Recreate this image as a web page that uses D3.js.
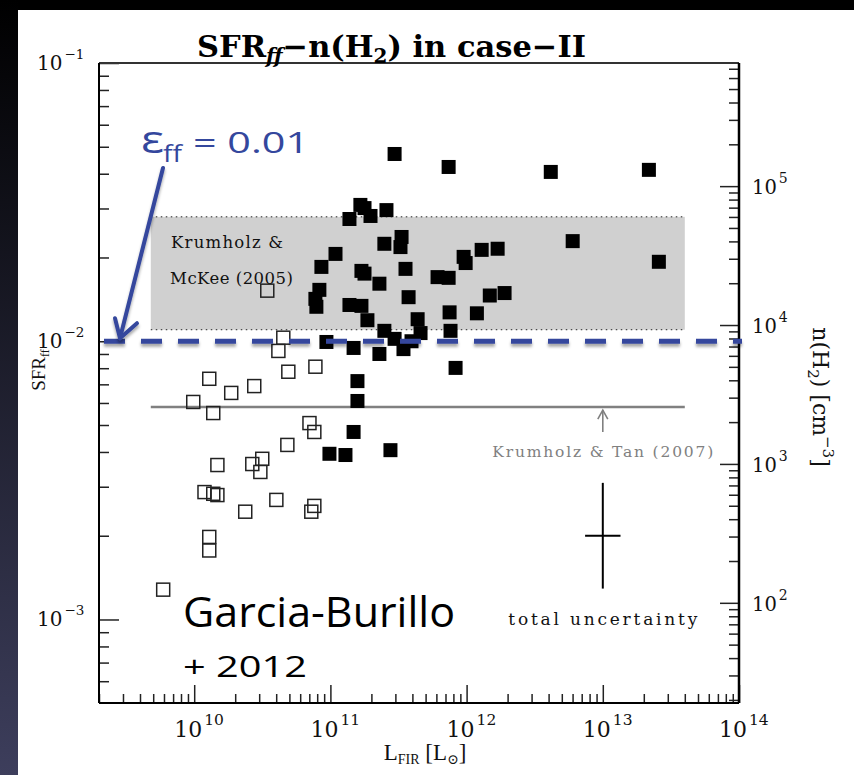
<!DOCTYPE html>
<html>
<head>
<meta charset="utf-8">
<script src="https://cdn.jsdelivr.net/npm/d3@7"></script>
<style>
  body { margin: 0; background: #fff; }
  svg { display: block; }
</style>
</head>
<body>
<svg id="chart" width="854" height="775"></svg>
<script>
// ---- data ----------------------------------------------------------------
// Galaxies with high-density tracer detections (filled) : L_FIR [Lsun], SFR_ff
const filledL = [2.96e11, 7.38e11, 4.15e12, 2.18e13, 1.66e11, 1.78e11, 2.58e11, 1.38e11, 1.97e11,
  6.01e12, 2.58e13, 3.33e11, 3.27e11, 2.49e11, 1.09e11, 8.59e10, 1.69e11, 1.78e11, 2.29e11,
  3.56e11, 9.51e11, 9.84e11, 1.29e12, 1.69e12, 6.12e11, 7.38e11, 8.30e10, 7.76e10, 7.89e10,
  1.38e11, 1.69e11, 1.87e11, 3.75e11, 1.48e12, 1.90e12, 7.50e11, 1.19e12, 4.37e11, 2.49e11,
  4.59e11, 7.62e11, 9.35e10, 2.96e11, 3.94e11, 1.48e11, 2.29e11, 3.44e11, 8.30e11, 1.58e11,
  1.58e11, 1.48e11, 9.84e10, 1.29e11, 2.76e11];
const filledSFR = [0.0471, 0.0423, 0.0406, 0.0413, 0.0309, 0.0301, 0.0296, 0.0275, 0.0282,
  0.0229, 0.0193, 0.0237, 0.0218, 0.0224, 0.0206, 0.0185, 0.0179, 0.0175, 0.0161,
  0.0182, 0.0201, 0.0191, 0.0213, 0.0215, 0.0170, 0.0169, 0.0153, 0.0142, 0.0133,
  0.0135, 0.0134, 0.0119, 0.0144, 0.0146, 0.0149, 0.0127, 0.0126, 0.0120, 0.0109,
  0.0107, 0.0109, 0.00994, 0.0102, 0.0100, 0.00946, 0.00900, 0.00937, 0.00802, 0.00719,
  0.00610, 0.00472, 0.00394, 0.00390, 0.00406];

// Normal galaxies (open)
const openL = [3.44e10, 4.51e10, 4.15e10, 7.76e10, 4.91e10, 1.29e10, 2.76e10, 1.87e10, 9.84e9,
  1.38e10, 7.02e10, 7.62e10, 4.83e10, 1.48e10, 3.16e10, 2.67e10, 3.06e10, 1.19e10, 1.38e10,
  1.48e10, 4.01e10, 7.62e10, 7.24e10, 2.37e10, 1.29e10, 1.29e10, 5.92e9];
const openSFR = [0.0152, 0.0103, 0.00923, 0.00810, 0.00777, 0.00733, 0.00690, 0.00652, 0.00605,
  0.00552, 0.00508, 0.00472, 0.00424, 0.00359, 0.00378, 0.00362, 0.00339, 0.00287, 0.00283,
  0.00280, 0.00269, 0.00256, 0.00244, 0.00244, 0.00198, 0.00177, 0.00128];

// Axis decades
const xTickExps = [10, 11, 12, 13, 14];
const yTickExps = [-1, -2, -3];
const nTickExps = [2, 3, 4, 5];

// Theory bands / lines
const kmL = [4.8e9, 4.0e13];          // Krumholz & McKee (2005) band extent in L_FIR
const kmSFR = [0.011, 0.028];         // and in SFR_ff
const ktL = [4.8e9, 4.0e13];
const ktSFR = 0.0058;                 // Krumholz & Tan (2007)
const effValue = 0.01;                // eps_ff = 0.01

// Representative uncertainty cross
const errL = 1e13, errSFR = 0.0020;
const errDexL = 0.13, errDexSFR = 0.19;

// ---- layout ----------------------------------------------------------------
const W = 854, H = 775;
const M = { left: 99, right: 739, top: 63, bottom: 703 };

const svg = d3.select("#chart");
const serif = "'DejaVu Serif', 'Liberation Serif', serif";
const lserif = "'Liberation Serif', 'DejaVu Serif', serif";
const sans = "'Open Sans', 'Lato', sans-serif";

// background: slide frame darkening on the left edge
const defs = svg.append("defs");
const grad = defs.append("linearGradient").attr("id", "edge").attr("x1", 0).attr("y1", 0).attr("x2", 0).attr("y2", 1);
grad.append("stop").attr("offset", "0%").attr("stop-color", "#000");
grad.append("stop").attr("offset", "100%").attr("stop-color", "#3d3e5c");
const shadow = defs.append("filter").attr("id", "shadow").attr("filterUnits", "userSpaceOnUse")
  .attr("x", 0).attr("y", 0).attr("width", W).attr("height", H);
shadow.append("feDropShadow").attr("dx", 0).attr("dy", 3).attr("stdDeviation", 1.8)
  .attr("flood-color", "#000").attr("flood-opacity", 0.35);

svg.append("rect").attr("width", W).attr("height", H).attr("fill", "#fff");
svg.append("rect").attr("x", 0).attr("y", 0).attr("width", W).attr("height", 10).attr("fill", "#000");
svg.append("rect").attr("x", 0).attr("y", 0).attr("width", 18).attr("height", H).attr("fill", "url(#edge)");

// ---- scales ----------------------------------------------------------------
const x = d3.scaleLog().domain([2e9, 1e14]).range([M.left, M.right]);
const y = d3.scaleLog().domain([5.01e-4, 0.1]).range([M.bottom, M.top]);
const yn = d3.scaleLog().domain([19, 7.7e5]).range([M.bottom, M.top]);

// ---- theory band (Krumholz & McKee 2005) ----------------------------------
svg.append("rect")
  .attr("x", x(kmL[0])).attr("y", y(kmSFR[1]))
  .attr("width", x(kmL[1]) - x(kmL[0])).attr("height", y(kmSFR[0]) - y(kmSFR[1]))
  .attr("fill", "#d0d0d0");
[kmSFR[0], kmSFR[1]].forEach(v => {
  svg.append("line").attr("x1", x(kmL[0])).attr("x2", x(kmL[1])).attr("y1", y(v)).attr("y2", y(v))
    .attr("stroke", "#222").attr("stroke-width", 1).attr("stroke-dasharray", "1.5,3.5");
});
const kmText = svg.append("g").attr("font-family", serif).attr("font-size", 16.5).attr("fill", "#111");
kmText.append("text").attr("x", 171).attr("y", 248).attr("textLength", 112).text("Krumholz &");
kmText.append("text").attr("x", 170).attr("y", 284).attr("textLength", 123).text("McKee (2005)");

// ---- Krumholz & Tan (2007) ---------------------------------------------------
svg.append("line").attr("x1", x(ktL[0])).attr("x2", x(ktL[1])).attr("y1", y(ktSFR)).attr("y2", y(ktSFR))
  .attr("stroke", "#808080").attr("stroke-width", 2.5);
const ktArrowX = x(1e13);
svg.append("line").attr("x1", ktArrowX).attr("x2", ktArrowX).attr("y1", 432).attr("y2", y(ktSFR) + 3)
  .attr("stroke", "#808080").attr("stroke-width", 1.6);
svg.append("path")
  .attr("d", `M${ktArrowX - 5},${y(ktSFR) + 12} L${ktArrowX},${y(ktSFR) + 3} L${ktArrowX + 5},${y(ktSFR) + 12}`)
  .attr("fill", "none").attr("stroke", "#808080").attr("stroke-width", 1.6);
svg.append("text").attr("x", ktArrowX).attr("y", 457).attr("text-anchor", "middle")
  .attr("font-family", serif).attr("font-size", 15.5).attr("fill", "#808080")
  .attr("textLength", 221).text("Krumholz & Tan (2007)");

// ---- data points -----------------------------------------------------------
const openPts = openL.map((d, i) => [d, openSFR[i]]);
const filledPts = filledL.map((d, i) => [d, filledSFR[i]]);
const so = 13, sf = 14;
svg.append("g").selectAll("rect").data(openPts).join("rect")
  .attr("x", d => x(d[0]) - so / 2).attr("y", d => y(d[1]) - so / 2)
  .attr("width", so).attr("height", so)
  .attr("fill", "none").attr("stroke", "#222").attr("stroke-width", 1.5);
svg.append("g").selectAll("rect").data(filledPts).join("rect")
  .attr("x", d => x(d[0]) - sf / 2).attr("y", d => y(d[1]) - sf / 2)
  .attr("width", sf).attr("height", sf).attr("fill", "#000");

// ---- uncertainty cross -----------------------------------------------------
svg.append("line")
  .attr("x1", x(errL)).attr("x2", x(errL))
  .attr("y1", y(errSFR * Math.pow(10, errDexSFR))).attr("y2", y(errSFR / Math.pow(10, errDexSFR)))
  .attr("stroke", "#000").attr("stroke-width", 2);
svg.append("line")
  .attr("x1", x(errL / Math.pow(10, errDexL))).attr("x2", x(errL * Math.pow(10, errDexL)))
  .attr("y1", y(errSFR)).attr("y2", y(errSFR))
  .attr("stroke", "#000").attr("stroke-width", 2);
svg.append("text").attr("x", x(errL)).attr("y", 625).attr("text-anchor", "middle")
  .attr("font-family", serif).attr("font-size", 17).attr("fill", "#111")
  .attr("textLength", 189).text("total uncertainty");

// ---- axes (ticks point inward) --------------------------------------------
function logMinors(lo, hi) {
  const out = [];
  for (let e = lo; e < hi; e++) for (let k = 2; k <= 9; k++) out.push(k * Math.pow(10, e));
  return out;
}
const xMinor = logMinors(9, 14).filter(v => v >= 2e9 && v <= 1e14);
const yMinor = logMinors(-4, -1).filter(v => v >= 5.01e-4 && v <= 0.1);
const nMinor = logMinors(1, 6).filter(v => v >= 19 && v <= 7.7e5);

function tickAxis(axisFn, scale, values, size, pos) {
  const g = svg.append("g").attr("transform", pos)
    .call(axisFn(scale).tickValues(values).tickSize(size).tickFormat(""));
  g.select(".domain").remove();
  g.selectAll("line").attr("stroke", "#222").attr("stroke-width", 1.5);
  return g;
}
tickAxis(d3.axisBottom, x, xMinor, -9, `translate(0,${M.bottom})`);
tickAxis(d3.axisBottom, x, xTickExps.map(e => Math.pow(10, e)), -18, `translate(0,${M.bottom})`);
tickAxis(d3.axisLeft, y, yMinor, -10, `translate(${M.left},0)`);
tickAxis(d3.axisLeft, y, yTickExps.map(e => Math.pow(10, e)), -20, `translate(${M.left},0)`);
tickAxis(d3.axisRight, yn, nMinor, -10, `translate(${M.right},0)`);
tickAxis(d3.axisRight, yn, nTickExps.map(e => Math.pow(10, e)), -19, `translate(${M.right},0)`);

// frame
svg.append("line").attr("x1", M.left).attr("x2", M.right).attr("y1", M.top).attr("y2", M.top).attr("stroke", "#333").attr("stroke-width", 2);
svg.append("line").attr("x1", M.left).attr("x2", M.right).attr("y1", M.bottom).attr("y2", M.bottom).attr("stroke", "#000").attr("stroke-width", 2);
svg.append("line").attr("x1", M.left).attr("x2", M.left).attr("y1", M.top).attr("y2", M.bottom).attr("stroke", "#000").attr("stroke-width", 2);
svg.append("line").attr("x1", M.right).attr("x2", M.right).attr("y1", M.top).attr("y2", M.bottom).attr("stroke", "#000").attr("stroke-width", 2.5);

// tick labels with superscript exponents
function powLabel(g, px, py, exp, size, supSize) {
  const t = g.append("text").attr("x", px).attr("y", py)
    .attr("font-family", serif).attr("font-size", size).attr("fill", "#111");
  t.append("tspan").text("10");
  t.append("tspan").attr("dx", 2).attr("dy", -size * 0.55).attr("font-size", supSize)
    .text(exp < 0 ? "\u2212" + Math.abs(exp) : String(exp));
  return t;
}
const labels = svg.append("g");
xTickExps.forEach(e => powLabel(labels, x(Math.pow(10, e)) - 20, 737, e, 22, 15.5));
yTickExps.forEach(e => powLabel(labels, 37, y(Math.pow(10, e)) + 7, e, 20, 13.5));
nTickExps.forEach(e => powLabel(labels, 752, yn(Math.pow(10, e)) + 8, e, 19.5, 14));

// axis titles
const xl = svg.append("text").attr("x", 425).attr("y", 760).attr("text-anchor", "middle")
  .attr("font-family", lserif).attr("font-size", 23).attr("fill", "#111");
xl.append("tspan").text("L");
xl.append("tspan").attr("dy", 4).attr("font-size", 14).text("FIR");
xl.append("tspan").attr("dy", -4).text(" [L");
xl.append("tspan").attr("dy", 4).attr("font-size", 14).text("\u2299");
xl.append("tspan").attr("dy", -4).text("]");

const yl = svg.append("text").attr("transform", "translate(45,370) rotate(-90)").attr("text-anchor", "middle")
  .attr("font-family", lserif).attr("font-size", 19).attr("fill", "#111");
yl.append("tspan").text("SFR");
yl.append("tspan").attr("dy", 4).attr("font-size", 12).text("ff");

const nl = svg.append("text").attr("transform", "translate(813,397) rotate(90)").attr("text-anchor", "middle")
  .attr("font-family", serif).attr("font-size", 22).attr("fill", "#111");
nl.append("tspan").text("n(H");
nl.append("tspan").attr("dy", 5).attr("font-size", 15).text("2");
nl.append("tspan").attr("dy", -5).text(") [cm");
nl.append("tspan").attr("dy", -10).attr("font-size", 15).text("\u22123");
nl.append("tspan").attr("dy", 10).text("]");

// title
const title = svg.append("text").attr("x", 197).attr("y", 57)
  .attr("font-family", serif).attr("font-weight", "bold").attr("font-size", 30.5).attr("fill", "#000");
title.append("tspan").text("SFR");
title.append("tspan").attr("dy", 6).attr("font-size", 20).attr("font-style", "italic").text("ff");
title.append("tspan").attr("dy", -6).text("\u2212n(H");
title.append("tspan").attr("dy", 6).attr("font-size", 20).text("2");
title.append("tspan").attr("dy", -6).text(") in case\u2212II");

// ---- eps_ff = 0.01 annotation ---------------------------------------------
const blue = "#34479d";
svg.append("line").attr("x1", M.left + 5).attr("x2", M.right + 3).attr("y1", y(effValue)).attr("y2", y(effValue))
  .attr("stroke", blue).attr("stroke-width", 5).attr("stroke-dasharray", "21,16")
  .attr("filter", "url(#shadow)");
const arrowTip = [120, y(effValue) - 3];
svg.append("g").attr("filter", "url(#shadow)").call(g => {
  g.append("line").attr("x1", 163).attr("y1", 168).attr("x2", arrowTip[0] + 1).attr("y2", arrowTip[1] - 4)
    .attr("stroke", blue).attr("stroke-width", 4).attr("stroke-linecap", "round");
  g.append("path").attr("d", `M${arrowTip[0] - 5},${arrowTip[1] - 20} L${arrowTip[0]},${arrowTip[1]} L${arrowTip[0] + 17},${arrowTip[1] - 15}`)
    .attr("fill", "none").attr("stroke", blue).attr("stroke-width", 4).attr("stroke-linecap", "round").attr("stroke-linejoin", "round");
});
const epsG = svg.append("g").attr("font-family", sans).attr("fill", blue);
epsG.append("text").attr("x", 141).attr("y", 153).attr("font-size", 38)
  .attr("textLength", 23).attr("lengthAdjust", "spacingAndGlyphs").text("\u03b5");
epsG.append("text").attr("x", 163).attr("y", 162).attr("font-size", 23)
  .attr("textLength", 19).attr("lengthAdjust", "spacingAndGlyphs").text("ff");
epsG.append("text").attr("x", 193).attr("y", 153).attr("font-size", 29)
  .attr("textLength", 116).attr("lengthAdjust", "spacingAndGlyphs").text("= 0.01");

// ---- reference ----------------------------------------------------------------
svg.append("text").attr("x", 183).attr("y", 627).attr("font-family", sans).attr("font-size", 42)
  .attr("textLength", 272).attr("lengthAdjust", "spacingAndGlyphs").attr("fill", "#000").text("Garcia-Burillo");
svg.append("text").attr("x", 183).attr("y", 677).attr("font-family", sans).attr("font-size", 30)
  .attr("textLength", 124).attr("lengthAdjust", "spacingAndGlyphs").attr("fill", "#000").text("+ 2012");
</script>
</body>
</html>
